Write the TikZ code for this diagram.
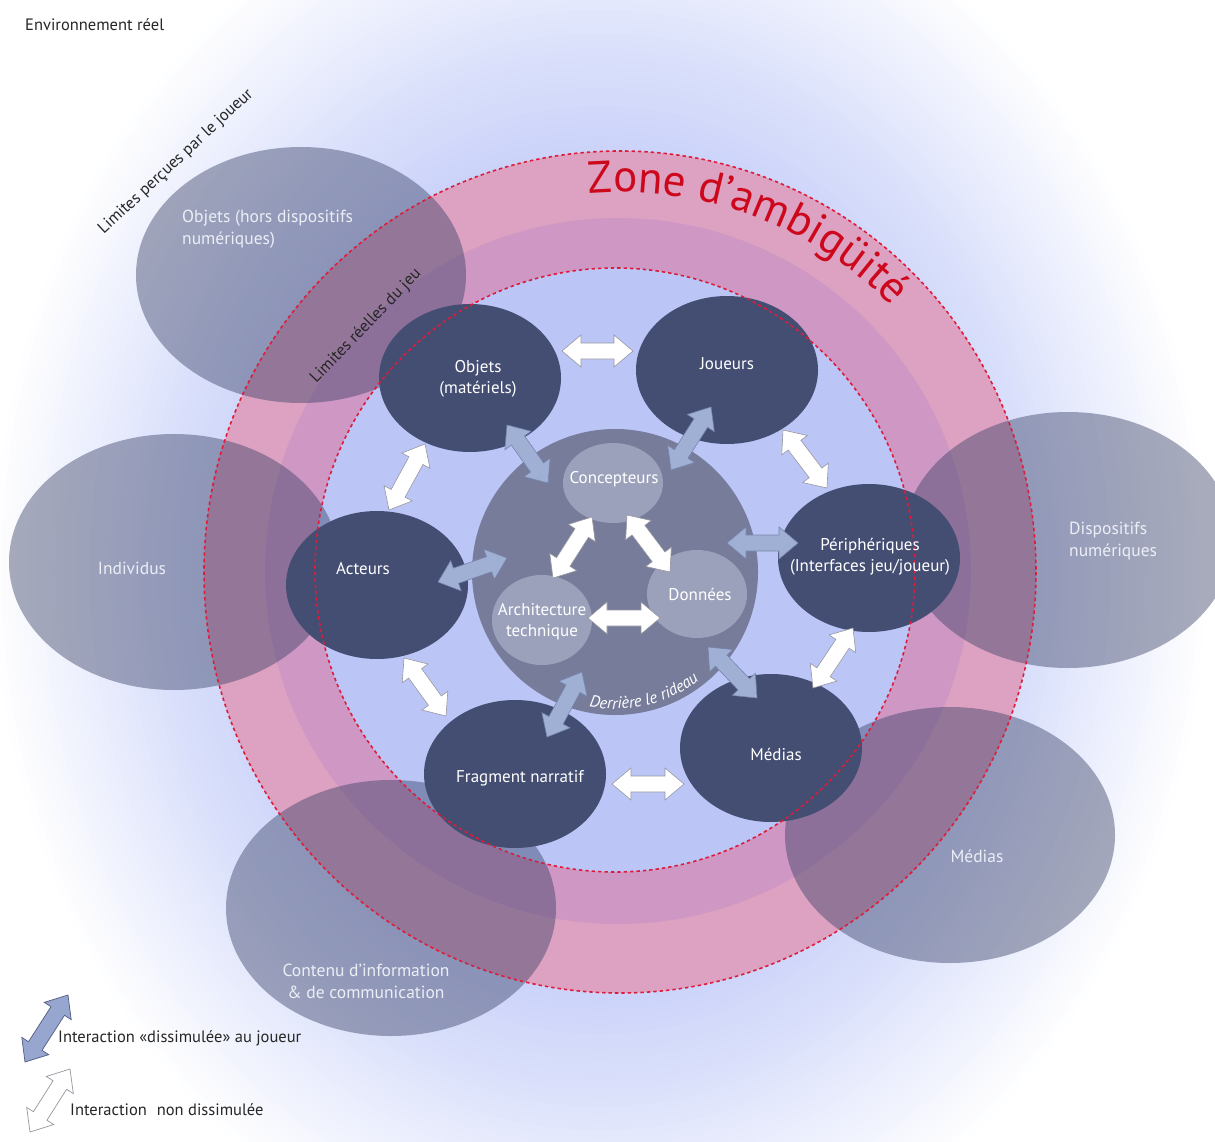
\documentclass[tikz,border=0pt]{standalone}
\usepackage{fontspec}
\setmainfont{PT Sans}
\usetikzlibrary{calc,decorations.text,shapes.geometric}
\definecolor{bgA}{RGB}{200,208,249}
\definecolor{bgB}{RGB}{218,224,251}
\definecolor{pinkA}{RGB}{221,162,193}
\definecolor{pinkB}{RGB}{206,151,196}
\definecolor{blueIn}{RGB}{187,198,247}
\definecolor{navy}{RGB}{68,78,115}
\definecolor{shadowc}{RGB}{54,62,99}
\definecolor{rideau}{RGB}{118,124,154}
\definecolor{lightc}{RGB}{156,161,187}
\definecolor{arrblue}{RGB}{160,176,212}
\definecolor{arrblueline}{RGB}{118,132,172}
\definecolor{arrgrey}{RGB}{150,150,160}
\definecolor{legblue}{RGB}{150,166,206}
\definecolor{legblueline}{RGB}{80,92,132}
\definecolor{zred}{RGB}{205,8,28}
\definecolor{dashred}{RGB}{222,28,58}
\definecolor{paletext}{RGB}{236,238,246}
\newcommand{\dblarr}[3]{%
  \coordinate (tmpa) at ($(#2)!19pt!(#3)$);
  \coordinate (tmpb) at ($(#3)!19pt!(#2)$);
  \draw[#1] (#2) -- ($(tmpa)!16pt!90:(#3)$) -- ($(tmpa)!8pt!90:(#3)$)
    -- ($(tmpb)!8pt!-90:(#2)$) -- ($(tmpb)!16pt!-90:(#2)$) -- (#3)
    -- ($(tmpb)!16pt!90:(#2)$) -- ($(tmpb)!8pt!90:(#2)$)
    -- ($(tmpa)!8pt!-90:(#3)$) -- ($(tmpa)!16pt!-90:(#3)$) -- cycle;}
\begin{document}
\begin{tikzpicture}[x=1pt,y=-1pt,
  shadowell/.style={ellipse, fill=shadowc, fill opacity=0.43, draw=none,
    minimum width=330pt, minimum height=256pt, inner sep=0pt},
  navynode/.style={ellipse, fill=navy, draw=none, minimum width=182pt,
    minimum height=148pt, inner sep=0pt},
  lightnode/.style={ellipse, fill=lightc, draw=none, inner sep=0pt},
  lbl/.style={text=white, font=\fontsize{17}{21}\selectfont, align=center, inner sep=0pt},
  palelbl/.style={text=paletext, font=\fontsize{17.5}{22}\selectfont, inner sep=0pt},
  blacklbl/.style={text=black!85, font=\fontsize{16.5}{20}\selectfont, inner sep=0pt},
  whitearr/.style={fill=white, draw=arrgrey, line width=0.6pt, line join=miter},
  bluearr/.style={fill=arrblue, draw=arrblueline, line width=0.6pt, line join=miter},
  legbluearr/.style={fill=legblue, draw=legblueline, line width=0.7pt, line join=miter},
  legwhitearr/.style={fill=white, draw=arrgrey, line width=0.7pt, line join=miter},
  dashring/.style={draw=dashred, line width=1.6pt, dash pattern=on 3.4pt off 3pt}]
\useasboundingbox (0,0) rectangle (1215,1142);
\begin{scope}
\clip (0,0) rectangle (1215,1142);
% background gradient
\fill[white] (0,0) rectangle (1215,1142);
\foreach \k in {0,...,25}{
  \pgfmathsetmacro{\rr}{0.9-\k*0.01}
  \pgfmathsetmacro{\pc}{\k/25*100}
  \fill[bgB!\pc!white] (600,570) ellipse [x radius={680*\rr}, y radius={800*\rr}];
}
\foreach \k in {1,...,15}{
  \pgfmathsetmacro{\rr}{0.65-\k*0.01}
  \pgfmathsetmacro{\pc}{\k/15*100}
  \fill[bgA!\pc!bgB] (600,570) ellipse [x radius={680*\rr}, y radius={800*\rr}];
}
% rings
\fill[pinkA] (620,572) ellipse [x radius=416, y radius=421];
\fill[pinkB] (618,571) circle [radius=353];
\fill[blueIn] (615,570) ellipse [x radius=300, y radius=302];
% outer shadow ellipses
\node[shadowell] (objhors) at (301,275) {};
\node[shadowell] (individus) at (174,562) {};
\node[shadowell] (dispo) at (1068,540) {};
\node[shadowell] (mediasext) at (950,835) {};
\node[shadowell] (contenu) at (391,908) {};
% behind the curtain
\node[circle, fill=rideau, minimum size=286pt, inner sep=0pt] (rideau) at (615,572) {};
\node[lightnode, minimum width=100pt, minimum height=80pt] (concepteurs) at (613,483) {};
\node[lightnode, minimum width=100pt, minimum height=88pt] (donnees) at (697,594) {};
\node[lightnode, minimum width=100pt, minimum height=90pt] (archi) at (542,620) {};
% main nodes
\node[navynode] (objets) at (470,378) {};
\node[navynode] (joueurs) at (727,370) {};
\node[navynode] (acteurs) at (377,585) {};
\node[navynode] (peri) at (869,558) {};
\node[navynode] (fragment) at (515,774) {};
\node[navynode] (medias) at (771,748) {};
% arrow end points
\coordinate (w1a) at (562,351); \coordinate (w1b) at (633,351);
\coordinate (w2a) at (425,444); \coordinate (w2b) at (389,510);
\coordinate (w3a) at (404,658); \coordinate (w3b) at (446,716);
\coordinate (w4a) at (612,784); \coordinate (w4b) at (684,784);
\coordinate (w5a) at (853,628); \coordinate (w5b) at (813,688);
\coordinate (w6a) at (783,430); \coordinate (w6b) at (827,488);
\coordinate (w7a) at (592,517); \coordinate (w7b) at (553,578);
\coordinate (w8a) at (627,515); \coordinate (w8b) at (670,572);
\coordinate (w9a) at (588,618); \coordinate (w9b) at (660,618);
\coordinate (b1a) at (507,425); \coordinate (b1b) at (548,483);
\coordinate (b2a) at (711,407); \coordinate (b2b) at (671,470);
\coordinate (b3a) at (438,582); \coordinate (b3b) at (507,558);
\coordinate (b4a) at (727,543); \coordinate (b4b) at (798,543);
\coordinate (b5a) at (708,647); \coordinate (b5b) at (757,698);
\coordinate (b6a) at (582,672); \coordinate (b6b) at (547,737);
\coordinate (lba) at (68,995); \coordinate (lbb) at (25,1062);
\coordinate (lwa) at (70,1069); \coordinate (lwb) at (30,1132);
\dblarr{whitearr}{w1a}{w1b}
\dblarr{whitearr}{w2a}{w2b}
\dblarr{whitearr}{w3a}{w3b}
\dblarr{whitearr}{w4a}{w4b}
\dblarr{whitearr}{w5a}{w5b}
\dblarr{whitearr}{w6a}{w6b}
\dblarr{whitearr}{w7a}{w7b}
\dblarr{whitearr}{w8a}{w8b}
\dblarr{whitearr}{w9a}{w9b}
\dblarr{bluearr}{b1a}{b1b}
\dblarr{bluearr}{b2a}{b2b}
\dblarr{bluearr}{b3a}{b3b}
\dblarr{bluearr}{b4a}{b4b}
\dblarr{bluearr}{b5a}{b5b}
\dblarr{bluearr}{b6a}{b6b}
\dblarr{legbluearr}{lba}{lbb}
\dblarr{legwhitearr}{lwa}{lwb}
% dashed limits
\draw[dashring] (620,572) ellipse [x radius=416, y radius=421];
\draw[dashring] (615,570) ellipse [x radius=300, y radius=302];
\end{scope}
% curved texts
\path[decorate, decoration={text along path, text align=center, text color=zred,
  text={|\fontsize{45}{45}\selectfont|Zone d’ambigüité}}]
  (620,572) ++(-97:380) arc[start angle=-97, end angle=-42, radius=380];
\path[decorate, decoration={text along path, text align=center, text color=white,
  text={|\itshape\fontsize{16.5}{16.5}\selectfont|Derrière le rideau}}]
  (615,572) ++(106:137) arc[start angle=106, end angle=47, radius=137];
% labels of main nodes
\node[lbl] (objets-t) at (478,379) {Objets\\(matériels)};
\node[lbl] (joueurs-t) at (727,364) {Joueurs};
\node[lbl] (acteurs-t) at (363,569) {Acteurs};
\node[lbl] (peri-t) at (870,557) {Périphériques\\(Interfaces jeu/joueur)};
\node[lbl] (fragment-t) at (520,778) {Fragment narratif};
\node[lbl] (medias-t) at (776,754) {Médias};
\node[lbl] (concepteurs-t) at (614,479) {Concepteurs};
\node[lbl] (donnees-t) at (700,594) {Données};
\node[lbl] (archi-t) at (542,622) {Architecture\\technique};
% labels of outer ellipses
\node[palelbl, anchor=west, align=left] (objhors-t) at (182,229) {Objets (hors dispositifs\\numériques)};
\node[palelbl] (individus-t) at (132,568) {Individus};
\node[palelbl, anchor=west, align=left] (dispo-t) at (1069,541) {Dispositifs\\numériques};
\node[palelbl] (mediasext-t) at (977,856) {Médias};
\node[palelbl, align=center] (contenu-t) at (366,981) {Contenu d’information\\\& de communication};
% other labels
\node[blacklbl, anchor=west] (env) at (25,25) {Environnement réel};
\node[blacklbl, rotate=43] (limp) at (176,162) {Limites perçues par le joueur};
\node[blacklbl, rotate=46] (limr) at (366,326) {Limites réelles du jeu};
\node[blacklbl, anchor=west] (leg1) at (58,1038) {Interaction «dissimulée» au joueur};
\node[blacklbl, anchor=west] (leg2) at (70,1110) {Interaction\hspace{0.6em}non dissimulée};
\end{tikzpicture}
\end{document}
